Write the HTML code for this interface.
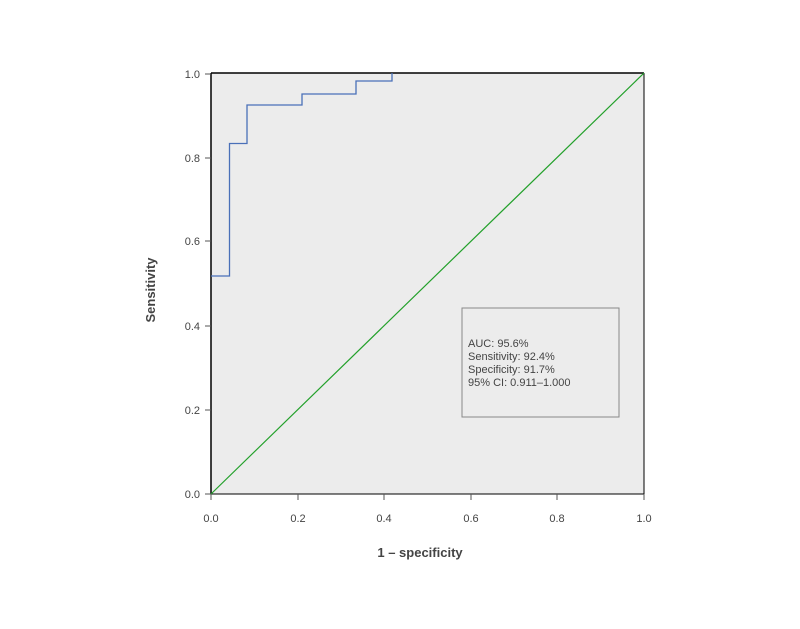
<!DOCTYPE html>
<html><head><style>body{margin:0;background:#fff}svg{display:block}</style></head><body>
<svg width="800" height="629" xmlns="http://www.w3.org/2000/svg" font-family="Liberation Sans, sans-serif">
<rect x="211" y="73" width="433" height="421" fill="#ececec"/>
<line x1="211" y1="73" x2="644" y2="73" stroke="#000" stroke-width="1.5"/>
<line x1="211" y1="73" x2="211" y2="494" stroke="#000" stroke-width="1.5"/>
<line x1="644" y1="73" x2="644" y2="494" stroke="#000" stroke-width="1"/>
<line x1="211" y1="494" x2="644" y2="494" stroke="#000" stroke-width="1"/>
<g stroke="#555" stroke-width="1">
<line x1="205" y1="74" x2="211" y2="74"/><line x1="205" y1="158" x2="211" y2="158"/><line x1="205" y1="241" x2="211" y2="241"/><line x1="205" y1="326" x2="211" y2="326"/><line x1="205" y1="410" x2="211" y2="410"/><line x1="205" y1="494" x2="211" y2="494"/>
<line x1="211" y1="494" x2="211" y2="500"/><line x1="298" y1="494" x2="298" y2="500"/><line x1="384" y1="494" x2="384" y2="500"/><line x1="471" y1="494" x2="471" y2="500"/><line x1="557" y1="494" x2="557" y2="500"/><line x1="644" y1="494" x2="644" y2="500"/>
</g>
<g font-size="11" fill="#444" text-anchor="end">
<text x="200" y="78">1.0</text><text x="200" y="162">0.8</text><text x="200" y="245">0.6</text><text x="200" y="330">0.4</text><text x="200" y="414">0.2</text><text x="200" y="498">0.0</text>
</g>
<g font-size="11" fill="#444" text-anchor="middle">
<text x="211" y="522">0.0</text><text x="298" y="522">0.2</text><text x="384" y="522">0.4</text><text x="471" y="522">0.6</text><text x="557" y="522">0.8</text><text x="644" y="522">1.0</text>
</g>
<text x="420" y="557" font-size="13" font-weight="bold" fill="#444" text-anchor="middle">1 – specificity</text>
<text transform="translate(155,290) rotate(-90)" font-size="13" font-weight="bold" fill="#444" text-anchor="middle">Sensitivity</text>
<line x1="211" y1="494" x2="644" y2="73" stroke="#22a02a" stroke-width="1.2"/>
<polyline fill="none" stroke="#4a70b8" stroke-width="1.3" points="211,276 229.5,276 229.5,143.5 247,143.5 247,105 302,105 302,94 356,94 356,81 392,81 392,73"/>
<rect x="462" y="308" width="157" height="109" fill="none" stroke="#888" stroke-width="1"/>
<g font-size="11" fill="#444">
<text x="468" y="347">AUC: 95.6%</text><text x="468" y="360">Sensitivity: 92.4%</text><text x="468" y="373">Specificity: 91.7%</text><text x="468" y="386">95% CI: 0.911–1.000</text>
</g>
</svg>
</body></html>
